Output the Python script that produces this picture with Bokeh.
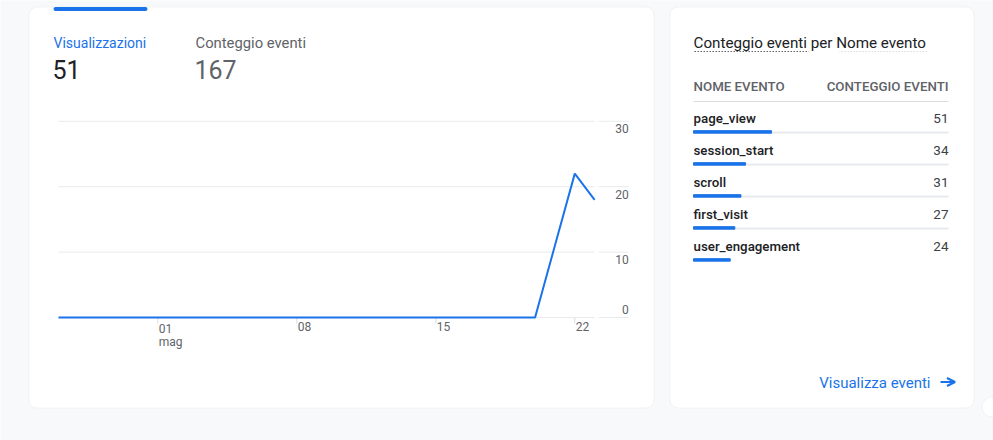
from datetime import timedelta
import pandas as pd
from bokeh.plotting import figure
from bokeh.models import Range1d, BoxAnnotation, Label, ColumnDataSource, Arrow, OpenHead
from bokeh.core.properties import value
from bokeh.embed import file_html
from bokeh.resources import INLINE

# ---------------- data ----------------
dates = ["2024-04-26", "2024-04-27", "2024-04-28", "2024-04-29", "2024-04-30",
         "2024-05-01", "2024-05-02", "2024-05-03", "2024-05-04", "2024-05-05",
         "2024-05-06", "2024-05-07", "2024-05-08", "2024-05-09", "2024-05-10",
         "2024-05-11", "2024-05-12", "2024-05-13", "2024-05-14", "2024-05-15",
         "2024-05-16", "2024-05-17", "2024-05-18", "2024-05-19", "2024-05-20",
         "2024-05-21", "2024-05-22", "2024-05-23"]
views = [0, 0, 0, 0, 0,
         0, 0, 0, 0, 0,
         0, 0, 0, 0, 0,
         0, 0, 0, 0, 0,
         0, 0, 0, 0, 0,
         11, 22, 18]

x_tick_dates = ["2024-05-01", "2024-05-08", "2024-05-15", "2024-05-22"]
x_tick_labels = ["01\nmag", "08", "15", "22"]
y_ticks = [0, 10, 20, 30]
y_tick_labels = ["0", "10", "20", "30"]

kpi_names = ["Visualizzazioni", "Conteggio eventi"]
kpi_values = ["51", "167"]

events = ["page_view", "session_start", "scroll", "first_visit", "user_engagement"]
counts = [51, 34, 31, 27, 24]

table_title = "Conteggio eventi per Nome evento"
table_headers = ["NOME EVENTO", "CONTEGGIO EVENTI"]
link_text = "Visualizza eventi"

# ---------------- styles / layout ----------------
W, H = 993, 440
BLUE = "#1a73e8"
PAGE = "#f8f9fa"
BORDER = "#dadce0"
GRID = "#e8eaed"
DARK = "#202124"
GREY = "#5f6368"
FONT = "Roboto"
FONT_MED = "'Roboto Medium', Roboto"

PX_DAY = 139 / 7.0      # horizontal pixels per day
PX_UNIT = 6.54          # vertical pixels per unit of the line chart
X0_PX, Y0_PX = 58, 317  # pixel position of first date / value 0
PX_COUNT = 1.53         # pixels per event in the table bars
BAR_X0 = 693
ROW_H = 32
ROW0_PX = 118.3


def sy(px):
    """screen y (measured from the bottom) for a pixel row measured from the top"""
    return H - px


dt = pd.to_datetime(dates)
x_start = dt[0] - timedelta(days=X0_PX / PX_DAY)
x_end = x_start + timedelta(days=W / PX_DAY)

p = figure(width=W, height=H, x_axis_type="datetime",
           x_range=Range1d(x_start, x_end),
           y_range=Range1d(-(H - Y0_PX) / PX_UNIT, Y0_PX / PX_UNIT),
           output_backend="svg", toolbar_location=None,
           x_axis_location=None, y_axis_location=None, min_border=0)
p.outline_line_color = None
p.background_fill_color = PAGE
p.border_fill_color = PAGE
p.grid.visible = False

# table ranges: counts horizontally, row order vertically (top to bottom)
p.extra_x_ranges = {"count": Range1d(-BAR_X0 / PX_COUNT, (W - BAR_X0) / PX_COUNT)}
p.extra_y_ranges = {"row": Range1d((H - ROW0_PX) / ROW_H, -ROW0_PX / ROW_H)}
n = len(events)


def box(l, r, t, b, **kw):
    return BoxAnnotation(left=l, right=r, top=sy(t), bottom=sy(b),
                         left_units="screen", right_units="screen",
                         top_units="screen", bottom_units="screen", **kw)


def label(x, y, text, size, color, font=FONT, align="left"):
    return Label(x=x, y=sy(y), x_units="screen", y_units="screen", text=text,
                 text_baseline="middle", text_align=align, text_font=font,
                 text_font_size=size, text_color=color)


# cards
p.add_layout(box(28.5, 653.5, 6.5, 407.5, fill_color="white", fill_alpha=1,
                 line_color=BORDER, line_width=1, border_radius=8, level="underlay"))
p.add_layout(box(669.5, 973.5, 6.5, 407.5, fill_color="white", fill_alpha=1,
                 line_color=BORDER, line_width=1, border_radius=8, level="underlay"))
p.add_layout(box(53, 147, 6.5, 10.5, fill_color=BLUE, fill_alpha=1, line_color=None,
                 border_radius=2, level="overlay"))
p.add_layout(box(981.5, 1001.5, 396.5, 416.5, fill_color="white", fill_alpha=1,
                 line_color=BORDER, border_radius=10))

# ---------------- line chart ----------------
stub0 = dt[-1] + timedelta(days=4 / PX_DAY)
stub1 = dt[-1] + timedelta(days=34 / PX_DAY)
m = len(y_ticks)
gsrc = ColumnDataSource(dict(y=y_ticks, x0=[dt[0]] * m, x1=[dt[-1]] * m,
                             s0=[stub0] * m, s1=[stub1] * m,
                             text=y_tick_labels, off=[-8, 7.5, 7.5, 7]))
p.segment(x0="x0", x1="x1", y0="y", y1="y", source=gsrc, line_color=GRID, line_width=1)
p.segment(x0="s0", x1="s1", y0="y", y1="y", source=gsrc, line_color=GRID, line_width=1)
p.text(x="s1", y="y", text="text", source=gsrc, y_offset="off", text_align="right",
       text_baseline="middle", text_font=value(FONT), text_font_size="12px",
       text_color=GREY)

tdt = pd.to_datetime(x_tick_dates)
k = len(tdt)
xsrc = ColumnDataSource(dict(x=tdt, y0=[0] * k, y1=[-6 / PX_UNIT] * k, text=x_tick_labels))
p.segment(x0="x", x1="x", y0="y0", y1="y1", source=xsrc, line_color=BORDER, line_width=1)
p.text(x="x", y="y0", text="text", source=xsrc, x_offset=1, y_offset=4,
       text_align="left", text_baseline="top", text_font=value(FONT),
       text_font_size="12px", text_color=GREY, text_line_height=0.95)

src = ColumnDataSource(dict(x=dt, y=views))
p.line("x", "y", source=src, line_color=BLUE, line_width=2)

kx = [53, 195]
ksize = ["14px", "14.8px"]
kcol = [BLUE, GREY]
vcol = [DARK, GREY]
for i in range(2):
    p.add_layout(label(kx[i], 42, kpi_names[i], ksize[i], kcol[i]))
    p.add_layout(label(kx[i] - 1, 69, kpi_values[i], "25px", vcol[i]))

# ---------------- table ----------------
rows = list(range(n))
xr_end = (948 - BAR_X0) / PX_COUNT
tsrc = ColumnDataSource(dict(row=rows, event=events, count=counts,
                             label=[str(c) for c in counts],
                             bar_y=[r + 0.41 for r in rows], xend=[xr_end] * n))
sep = ColumnDataSource(dict(y=[r + 0.43 for r in rows[:-1]], xend=[xr_end] * (n - 1)))
p.hbar(y="y", left=0, right="xend", height=1 / ROW_H, source=sep, color=GRID,
       x_range_name="count", y_range_name="row")
p.hbar(y="bar_y", left=0, right="count", height=2.5 / ROW_H, source=tsrc, color=BLUE,
       x_range_name="count", y_range_name="row")
p.text(x=0, y="row", text="event", source=tsrc, text_align="left",
       text_baseline="middle", text_font=value(FONT_MED), text_font_size="13.3px",
       text_color=DARK, x_range_name="count", y_range_name="row")
p.text(x="xend", y="row", text="label", source=tsrc, text_align="right",
       text_baseline="middle", text_font=value(FONT), text_font_size="13.5px",
       text_color="#3c4043", x_range_name="count", y_range_name="row")

p.add_layout(label(693, 42, table_title, "15.2px", DARK))
for l, r, c in [(693, 808, GREY), (839, 928, BORDER)]:
    p.add_layout(box(l, r, 50.5, 51.5, fill_alpha=0, line_color=None,
                     hatch_pattern="vertical_line", hatch_color=c,
                     hatch_scale=3, hatch_weight=2))
p.add_layout(label(693, 86, table_headers[0], "13.3px", GREY, font=FONT_MED))
p.add_layout(label(948, 86, table_headers[1], "13.3px", GREY, font=FONT_MED,
                   align="right"))
p.add_layout(box(693, 948, 100.5, 101.5, fill_color=BORDER, fill_alpha=1, line_color=None))
p.add_layout(label(930, 382, link_text, "15px", BLUE, align="right"))
p.add_layout(Arrow(x_start=940, y_start=sy(381.5), x_end=954.5, y_end=sy(381.5),
                   start_units="screen", end_units="screen", line_color=BLUE,
                   line_width=2.2,
                   end=OpenHead(size=8, line_color=BLUE, line_width=2.2)))

open("out.html", "w").write(file_html(p, INLINE))
